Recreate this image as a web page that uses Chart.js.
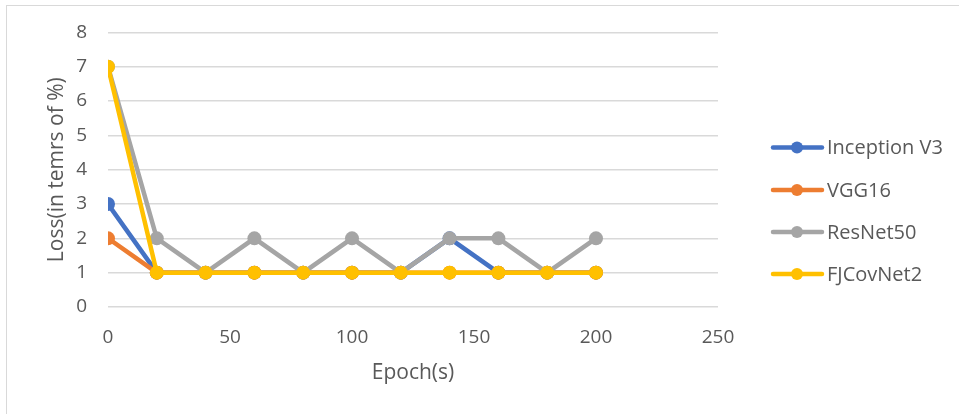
<!DOCTYPE html>
<html>
<head>
<meta charset="utf-8">
<script src="https://cdn.jsdelivr.net/npm/chart.js@4.4.1/dist/chart.umd.min.js"></script>
<style>
  html, body { margin: 0; padding: 0; background: #ffffff; }
  #wrap { position: relative; width: 959px; height: 414px; overflow: hidden; }
  #frame { position: absolute; left: 6px; top: 5px; width: 1000px; height: 500px;
           border-top: 1.5px solid #d9d9d9; border-left: 1.5px solid #d9d9d9; }
  #chart { position: absolute; left: 0; top: 0; }
</style>
</head>
<body>
<div id="wrap">
  <div id="frame"></div>
  <canvas id="chart" width="959" height="414"></canvas>
</div>
<script>
// Training loss per epoch for each network
const epochs = [0, 20, 40, 60, 80, 100, 120, 140, 160, 180, 200];
const inceptionV3 = [3, 1, 1, 1, 1, 1, 1, 2, 1, 1, 1];
const vgg16       = [2, 1, 1, 1, 1, 1, 1, 1, 1, 1, 1];
const resNet50    = [7, 2, 1, 2, 1, 2, 1, 2, 2, 1, 2];
const fjCovNet2   = [7, 1, 1, 1, 1, 1, 1, 1, 1, 1, 1];

const seriesNames = ['Inception V3', 'VGG16', 'ResNet50', 'FJCovNet2'];
const seriesColors = ['#4472C4', '#ED7D31', '#A5A5A5', '#FFC000'];
const seriesValues = [inceptionV3, vgg16, resNet50, fjCovNet2];

const xTitle = 'Epoch(s)';
const yTitle = 'Loss(in temrs of %)';

const FONT = '"Open Sans", Lato, sans-serif';
const TEXT = '#595959';

const datasets = seriesNames.map((name, i) => ({
  label: name,
  data: epochs.map((e, j) => ({ x: e, y: seriesValues[i][j] })),
  borderColor: seriesColors[i],
  backgroundColor: seriesColors[i],
  borderWidth: 4.5,
  pointRadius: 7,
  pointHoverRadius: 7,
  pointBorderWidth: 0,
  tension: 0,
  order: seriesNames.length - 1 - i
}));

// Legend on the right: line with a round marker, then the series name
const sideLegend = {
  id: 'sideLegend',
  afterDraw(chart) {
    const ctx = chart.ctx;
    const rows = [147.5, 190, 232, 274];
    ctx.save();
    chart.data.datasets.forEach((ds, i) => {
      const y = rows[i];
      ctx.strokeStyle = ds.borderColor;
      ctx.lineWidth = 4.5;
      ctx.lineCap = 'round';
      ctx.beginPath();
      ctx.moveTo(773, y);
      ctx.lineTo(822, y);
      ctx.stroke();
      ctx.fillStyle = ds.borderColor;
      ctx.beginPath();
      ctx.arc(797, y, 6, 0, Math.PI * 2);
      ctx.fill();
      ctx.fillStyle = TEXT;
      ctx.font = '20px ' + FONT;
      ctx.textAlign = 'left';
      ctx.textBaseline = 'middle';
      ctx.fillText(ds.label, 827, y + 1);
    });
    ctx.restore();
  }
};

new Chart(document.getElementById('chart'), {
  type: 'line',
  data: { datasets },
  options: {
    responsive: false,
    animation: false,
    events: [],
    layout: { padding: { top: 31, left: 0, right: 241, bottom: 0 } },
    plugins: { legend: { display: false }, tooltip: { enabled: false } },
    scales: {
      x: {
        type: 'linear',
        min: 0, max: 250,
        ticks: { stepSize: 50, color: TEXT, font: { family: FONT, size: 19 }, padding: 19, maxRotation: 0 },
        grid: { display: false, drawTicks: false },
        border: { display: false },
        title: { display: true, text: xTitle, color: TEXT, font: { family: FONT, size: 21 }, padding: { bottom: 28 } },
        afterFit(scale) { scale.height = 107; }
      },
      y: {
        min: 0, max: 8,
        ticks: { stepSize: 1, color: TEXT, font: { family: FONT, size: 19 }, padding: 21 },
        grid: { color: '#d9d9d9', lineWidth: 1.5, drawTicks: false },
        border: { display: false },
        title: { display: true, text: yTitle, color: TEXT, font: { family: FONT, size: 21 }, padding: { top: 44 } },
        afterFit(scale) { scale.width = 108; }
      }
    }
  },
  plugins: [sideLegend]
});
</script>
</body>
</html>
